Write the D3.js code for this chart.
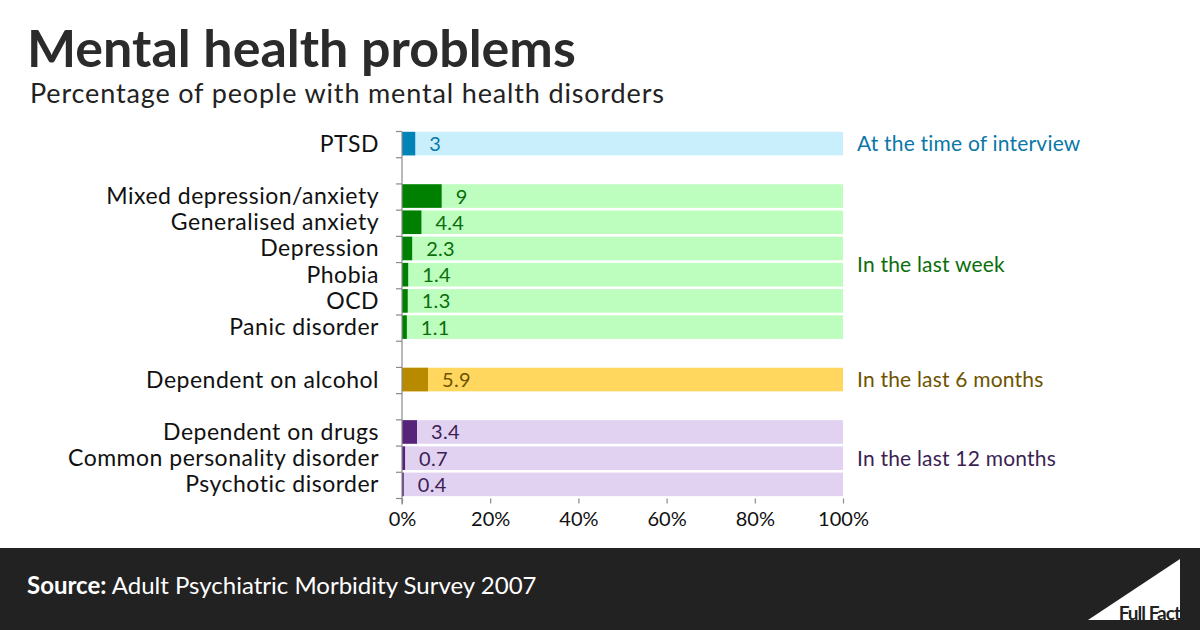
<!DOCTYPE html>
<html>
<head>
<meta charset="utf-8">
<script src="https://cdn.jsdelivr.net/npm/d3@7"></script>
<style>
  html, body { margin: 0; padding: 0; background: #fff; }
  svg { display: block; }
  text { font-family: Lato, "Open Sans", sans-serif; }
</style>
</head>
<body>
<svg id="chart" width="1200" height="630"></svg>
<script>
// ---- Data ----
const categories = [
  "PTSD",
  "Mixed depression/anxiety", "Generalised anxiety", "Depression", "Phobia", "OCD", "Panic disorder",
  "Dependent on alcohol",
  "Dependent on drugs", "Common personality disorder", "Psychotic disorder"
];
const values = [3, 9, 4.4, 2.3, 1.4, 1.3, 1.1, 5.9, 3.4, 0.7, 0.4];
const valueLabels = ["3", "9", "4.4", "2.3", "1.4", "1.3", "1.1", "5.9", "3.4", "0.7", "0.4"];
const groupOf = [0, 1, 1, 1, 1, 1, 1, 2, 3, 3, 3];
const groupNames = ["At the time of interview", "In the last week", "In the last 6 months", "In the last 12 months"];
const xTicks = [0, 20, 40, 60, 80, 100];

// ---- Styles ----
const darkColors  = ["#0084b8", "#008000", "#b88a00", "#56247a"];
const lightColors = ["#c9effd", "#bdfdbd", "#ffd75f", "#e2d2f2"];
const textColors  = ["#0a78a8", "#0a6e0a", "#6e5300", "#3c1f55"];

const svg = d3.select("#chart");

// Build slots: categories with gaps between groups
const slots = [];
categories.forEach((c, i) => {
  if (i > 0 && groupOf[i] !== groupOf[i - 1]) slots.push({ key: "gap" + i, gap: true });
  slots.push({ key: c, gap: false, i });
});

const x = d3.scaleLinear().domain([0, 100]).range([402, 843]);
const y = d3.scaleBand().domain(slots.map(s => s.key)).range([131.5, 498.5])
  .paddingInner(0.1).paddingOuter(0.05);
const step = y.step();

// Title
svg.append("text").attr("x", 27).attr("y", 67)
  .attr("font-size", 52).attr("font-weight", 700).attr("fill", "#2b2b2b")
  .text("Mental health problems");
svg.append("text").attr("x", 30).attr("y", 103)
  .attr("font-size", 27).attr("letter-spacing", 0.85).attr("fill", "#222")
  .text("Percentage of people with mental health disorders");

const items = slots.filter(s => !s.gap);

// Background bars
svg.append("g").selectAll("rect").data(items).join("rect")
  .attr("x", x(0)).attr("y", d => y(d.key) - 1)
  .attr("width", x(100) - x(0)).attr("height", y.bandwidth())
  .attr("fill", d => lightColors[groupOf[d.i]]);

// Value bars
svg.append("g").selectAll("rect").data(items).join("rect")
  .attr("x", x(0)).attr("y", d => y(d.key) - 1)
  .attr("width", d => x(values[d.i]) - x(0)).attr("height", y.bandwidth())
  .attr("fill", d => darkColors[groupOf[d.i]]);

// Value labels
svg.append("g").selectAll("text").data(items).join("text")
  .attr("x", d => x(values[d.i]) + 14)
  .attr("y", d => y(d.key) - 1 + y.bandwidth() / 2 + 7.5)
  .attr("font-size", 20).attr("letter-spacing", 0.3).attr("fill", d => textColors[groupOf[d.i]])
  .text(d => valueLabels[d.i]);

// Category labels
svg.append("g").selectAll("text").data(items).join("text")
  .attr("x", 379).attr("text-anchor", "end")
  .attr("y", d => y(d.key) - 1 + y.bandwidth() / 2 + 8)
  .attr("font-size", 23).attr("letter-spacing", 0.5).attr("fill", "#111")
  .text(d => categories[d.i]);

// Y axis line and ticks at band boundaries
const axisColor = "#8a8a8a";
const yTop = y.range()[0], yBot = y.range()[1];
svg.append("line").attr("x1", x(0)).attr("x2", x(0)).attr("y1", yTop).attr("y2", yBot + 6)
  .attr("stroke", axisColor).attr("stroke-width", 1.2);
const bounds = d3.range(slots.length + 1).map(k => yTop + k * step);
svg.append("g").selectAll("line").data(bounds).join("line")
  .attr("x1", x(0) - 6).attr("x2", x(0)).attr("y1", d => d).attr("y2", d => d)
  .attr("stroke", axisColor).attr("stroke-width", 1.2);

// X axis
const xAxis = d3.axisBottom(x).tickValues(xTicks).tickFormat(d => d + "%").tickSize(5).tickPadding(8);
const gx = svg.append("g").attr("transform", `translate(0,${yBot})`).call(xAxis);
gx.select(".domain").remove();
gx.selectAll(".tick line").attr("stroke", axisColor).attr("stroke-width", 1.2);
gx.selectAll(".tick text").attr("font-size", 20).attr("fill", "#111")
  .attr("font-family", "Lato, 'Open Sans', sans-serif");

// Group labels
groupNames.forEach((g, gi) => {
  const members = items.filter(d => groupOf[d.i] === gi);
  const cy = d3.mean(members, d => y(d.key) - 1 + y.bandwidth() / 2);
  svg.append("text").attr("x", 857).attr("y", cy + 7.5 + (members.length > 3 ? 2.5 : 0))
    .attr("font-size", 21).attr("letter-spacing", 0.2).attr("fill", textColors[gi]).text(g);
});

// Footer
svg.append("rect").attr("x", 0).attr("y", 548).attr("width", 1200).attr("height", 82).attr("fill", "#222");
const src = svg.append("text").attr("x", 27).attr("y", 594).attr("font-size", 24).attr("fill", "#fff");
src.append("tspan").attr("font-weight", 700).text("Source:");
src.append("tspan").text(" Adult Psychiatric Morbidity Survey 2007");

// Logo
svg.append("polygon").attr("points", "1088,620 1180,559 1180,620").attr("fill", "#fff");
svg.append("text").attr("x", 1180).attr("y", 620).attr("text-anchor", "end")
  .attr("font-size", 19).attr("font-weight", 700).attr("fill", "#222")
  .attr("letter-spacing", -1).text("Full Fact");
</script>
</body>
</html>
